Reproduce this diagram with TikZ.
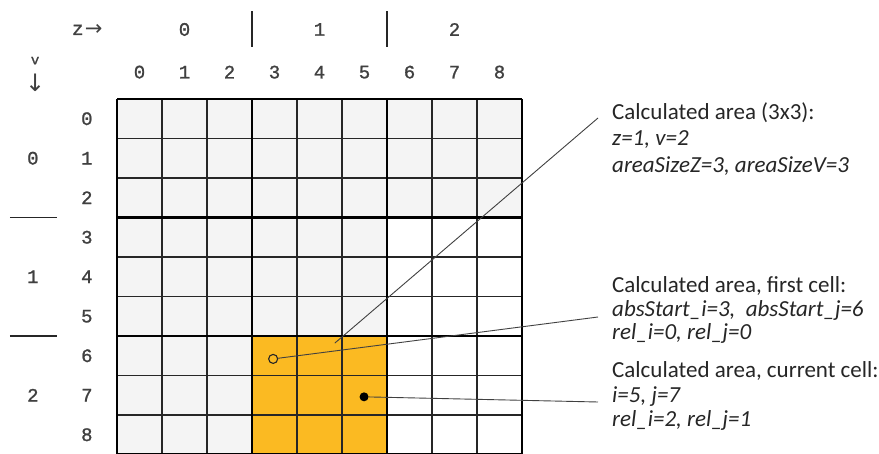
\documentclass[tikz,border=0pt]{standalone}
\usepackage{fontspec}
\setmainfont{Carlito}
\newfontfamily\monofont[FakeBold=1.2]{Liberation Mono}
\newfontfamily\arrowfont{DejaVu Sans}
\usetikzlibrary{positioning,calc}
\definecolor{cellgray}{HTML}{F4F4F4}
\definecolor{areaorange}{HTML}{FBBA22}
\tikzset{
    thin grid/.style={line width=1.1pt, draw=black!85},
    block grid/.style={line width=2.2pt, draw=black},
    idx/.style={font=\monofont\fontsize{19}{19}\selectfont, text=black!75, inner sep=0pt},
    arrowlabel/.style={font=\arrowfont\fontsize{21}{21}\selectfont, text=black!75, inner sep=0pt},
    sep line/.style={line width=1.3pt, draw=black!85},
    note/.style={font=\fontsize{23}{23}\selectfont, anchor=base west, inner sep=0pt, text=black!85},
    callout/.style={line width=0.9pt, draw=black!75},
    first dot/.style={circle, draw=black!85, line width=1.1pt, minimum size=9pt, inner sep=0pt},
    cur dot/.style={circle, fill=black, minimum size=9pt, inner sep=0pt}
}

\begin{document}
\begin{tikzpicture}[x=1pt, y=-1pt]
\useasboundingbox (0,0) rectangle (879,454);

% Raster in Zelleneinheiten
\begin{scope}[shift={(117,99)}, x=45pt, y=-39.5pt]

    % Flaechen
    \fill[cellgray] (0,0) rectangle (9,3);
    \fill[cellgray] (0,3) rectangle (6,6);
    \fill[cellgray] (0,6) rectangle (3,9);
    \fill[areaorange] (3,6) rectangle (6,9);

    % Linien
    \foreach \i in {1,2,4,5,7,8} {
        \draw[thin grid] (\i,0) -- (\i,9);
        \draw[thin grid] (0,\i) -- (9,\i);
    }
    \foreach \i in {0,3,6,9} {
        \draw[block grid] (\i,0) -- (\i,9);
        \draw[block grid] (0,\i) -- (9,\i);
    }

    % Indizes
    \foreach \c in {0,...,8}
        \node[idx] (col\c) at (\c+0.5,-0.68) {\c};
    \foreach \r in {0,...,8}
        \node[idx] (row\r) at (-0.67,\r+0.5) {\r};

    \node[idx, anchor=east] (zlabel) at (-0.74,-1.75) {z};
    \node[arrowlabel, right=1pt of zlabel] (zarrow) {→};
    \foreach \b/\x in {0/1.5,1/4.5,2/7.5}
        \node[idx] (zblock\b) at (\x,-1.76) {\b};
    \draw[sep line] (3,-2.22) -- (3,-1.31);
    \draw[sep line] (6,-2.22) -- (6,-1.31);

    \node[idx, font=\monofont\fontsize{14}{14}\selectfont] (vlabel) at (-1.82,-0.97) {v};
    \node[arrowlabel, font=\arrowfont\fontsize{24}{24}\selectfont] (varrow) at (-1.82,-0.40) {↓};
    \foreach \b/\y in {0/1.5,1/4.5,2/7.5}
        \node[idx] (vblock\b) at (-1.87,\y) {\b};
    \draw[sep line] (-2.38,3) -- (-1.33,3);
    \draw[sep line] (-2.38,6) -- (-1.33,6);

    % Markierungen
    \coordinate (areamark) at (4.84,6.18);
    \node[first dot] (firstcell) at (3.47,6.58) {};
    \node[cur dot] (curcell) at (5.49,7.54) {};
\end{scope}

% Beschriftungen
\node[note] (areanote)  at (612,120)   {Calculated area (3x3):};
\node[note] (areanote2) at (612,146)   {\textit{z=1, v=2}};
\node[note] (areanote3) at (612,173)   {\textit{areaSizeZ=3, areaSizeV=3}};

\node[note] (firstnote)  at (612,292.5) {Calculated area, first cell:};
\node[note] (firstnote2) at (612,316.5) {\textit{absStart\_i=3, \ absStart\_j=6}};
\node[note] (firstnote3) at (612,340)   {\textit{rel\_i=0, rel\_j=0}};

\node[note] (curnote)  at (612,377.5) {Calculated area, current cell:};
\node[note] (curnote2) at (612,402.5) {\textit{i=5, j=7}};
\node[note] (curnote3) at (612,427)   {\textit{rel\_i=2, rel\_j=1}};

\coordinate (areaend) at (598,118);
\coordinate (firstend) at (598,317);
\coordinate (curend) at (598,402);

\draw[callout] (areamark) -- (areaend);
\draw[callout] (firstcell) -- (firstend);
\draw[callout] (curcell) -- (curend);

\end{tikzpicture}
\end{document}
